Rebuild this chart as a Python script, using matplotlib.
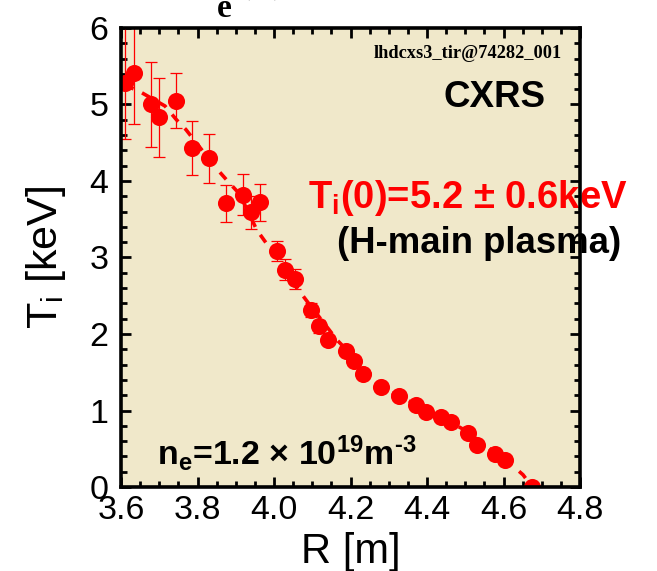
import matplotlib
matplotlib.use('Agg')
import matplotlib.pyplot as plt
from matplotlib.ticker import MultipleLocator

plt.rcParams['font.family'] = ['Liberation Sans', 'DejaVu Sans']
plt.rcParams['mathtext.default'] = 'regular'

# CXRS ion temperature profile
R = [3.610, 3.634, 3.678, 3.700, 3.743, 3.786, 3.830, 3.875, 3.919, 3.941,
     3.963, 4.007, 4.030, 4.054, 4.097, 4.118, 4.142, 4.187, 4.210, 4.232,
     4.279, 4.326, 4.371, 4.397, 4.437, 4.463, 4.508, 4.531, 4.578, 4.604,
     4.674]
Ti = [5.28, 5.41, 5.00, 4.83, 5.05, 4.43, 4.30, 3.71, 3.82, 3.59,
      3.72, 3.08, 2.84, 2.72, 2.31, 2.10, 1.92, 1.78, 1.65, 1.48,
      1.31, 1.19, 1.07, 0.98, 0.91, 0.85, 0.71, 0.55, 0.43, 0.35,
      0.00]
Ti_err = [0.73, 0.67, 0.56, 0.51, 0.36, 0.35, 0.32, 0.24, 0.27, 0.22,
          0.24, 0.13, 0.14, 0.13, 0.09, 0.085, 0.06, 0.06, 0.05, 0.05,
          0.04, 0.04, 0.04, 0.03, 0.03, 0.03, 0.03, 0.03, 0.02, 0.02,
          0.02]

# fitted curve
R_fit = [3.610, 3.645, 3.715, 3.745, 3.770, 3.845, 3.875, 3.910, 3.955, 3.975,
         4.000, 4.068, 4.086, 4.165, 4.259, 4.303, 4.348, 4.400, 4.450, 4.500,
         4.550, 4.621, 4.651, 4.675]
Ti_fit = [5.25, 5.18, 4.98, 4.80, 4.67, 4.19, 4.02, 3.83, 3.36, 3.22,
          3.05, 2.55, 2.43, 1.92, 1.44, 1.24, 1.14, 0.99, 0.88, 0.74,
          0.55, 0.29, 0.16, 0.00]

red = '#ff0000'

fig = plt.figure(figsize=(6.57, 5.71), dpi=100)
ax = fig.add_axes([0.1842, 0.1471, 0.6986, 0.8039])
ax.set_facecolor('#f0e8ca')

ax.plot(R_fit, Ti_fit, color=red, lw=2.6, dashes=(2.6, 2.6), zorder=2)
ax.errorbar(R, Ti, yerr=Ti_err, fmt='o', color=red, ms=12.3, mec='none',
            elinewidth=0.9, capsize=4.5, capthick=0.9, ecolor=red, zorder=3)

ax.set_xlim(3.6, 4.8)
ax.set_ylim(0, 6)
ax.xaxis.set_major_locator(MultipleLocator(0.2))
ax.xaxis.set_minor_locator(MultipleLocator(0.05))
ax.yaxis.set_major_locator(MultipleLocator(1))
ax.yaxis.set_minor_locator(MultipleLocator(0.2))
ax.set_xticks([3.6, 3.8, 4.0, 4.2, 4.4, 4.6, 4.8])
ax.set_xticklabels(['3.6', '3.8', '4.0', '4.2', '4.4', '4.6', '4.8'])

ax.tick_params(which='both', direction='in', top=True, right=True,
               labelsize=24.5, width=2.0, color='black')
ax.tick_params(axis='x', which='major', length=7, pad=6)
ax.tick_params(axis='y', which='major', length=7, pad=9)
ax.tick_params(which='minor', length=4)
for s in ax.spines.values():
    s.set_linewidth(2.6)
    s.set_zorder(5)

ax.set_xlabel('R [m]', fontsize=30, labelpad=4)
ax.set_ylabel('T$_{i}$ [keV]', fontsize=31)
ax.yaxis.set_label_coords(-0.115, 0.5)

ax.text(0.961, 0.935, 'lhdcxs3_tir@74282_001', transform=ax.transAxes,
        ha='right', va='baseline', fontsize=13.2, fontweight='bold',
        family='Liberation Serif')
ax.text(0.924, 0.828, 'CXRS', transform=ax.transAxes, ha='right',
        va='baseline', fontsize=26.5, fontweight='bold')
ax.text(0.407, 0.608, 'T$_{i}$(0)=5.2 ± 0.6keV', transform=ax.transAxes,
        ha='left', va='baseline', fontsize=27.5, fontweight='bold',
        color=red, clip_on=False, zorder=4)
ax.text(0.471, 0.510, '(H-main plasma)', transform=ax.transAxes, ha='left',
        va='baseline', fontsize=26.3, fontweight='bold', clip_on=False, zorder=4)
ax.text(0.078, 0.048, 'n$_{e}$=1.2 × 10$^{19}$m$^{\u2010 3}$',
        transform=ax.transAxes, ha='left', va='baseline', fontsize=24.5,
        fontweight='bold')

# header line, cut off at the top edge
fig.text(217 / 657, 1 - 17 / 571, 'e', ha='left', va='baseline', fontsize=24,
         fontweight='bold', family='Liberation Serif')
fig.text(236 / 657, 1 + 8 / 571, '(0)', ha='left', va='baseline', fontsize=32,
         fontweight='bold', family='Liberation Serif')
fig.text(377 / 657, 1 + 8 / 571, '[10$^{19}$ m$^{-3}$]', ha='left',
         va='baseline', fontsize=32, fontweight='bold', family='Liberation Serif')

fig.savefig('out.png', dpi=100)
